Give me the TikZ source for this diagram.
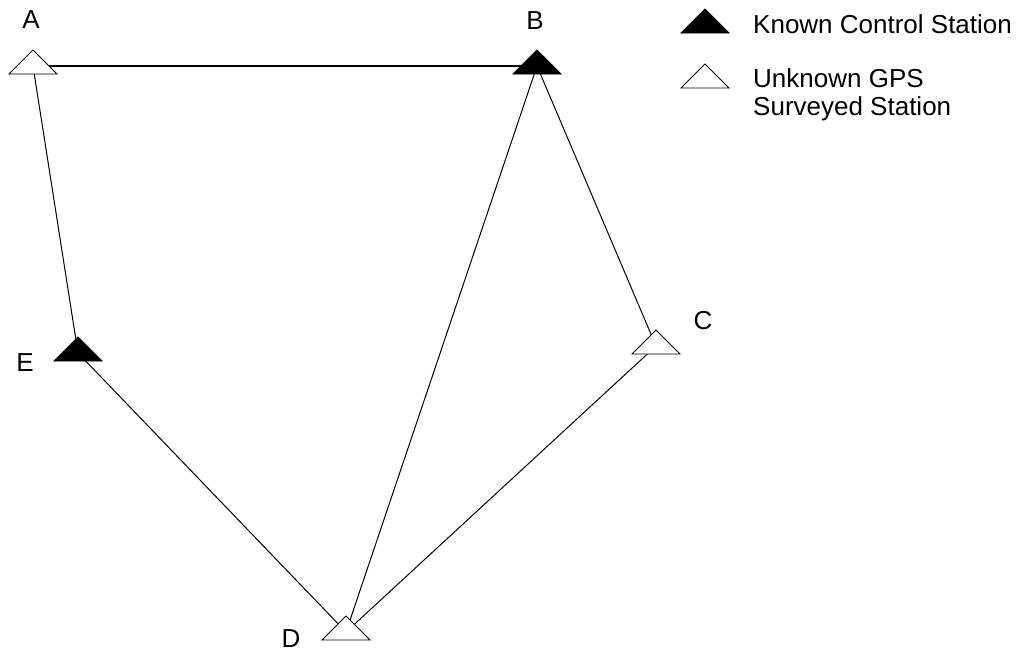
\documentclass[tikz,border=0pt]{standalone}
\usepackage{fontspec}
\setmainfont{Liberation Sans}
\begin{document}
\begin{tikzpicture}[x=1pt,y=-1pt,
  every node/.style={font=\fontsize{26}{28}\selectfont, inner sep=0pt},
  link/.style={draw=black, line width=1pt},
  station/.pic={\draw[line width=0.9pt, fill=#1] (-24,8) -- (0,-16) -- (24,8) -- cycle;}
]
\useasboundingbox (0,0) rectangle (1022,654);
% station positions (triangle centroids)
\coordinate (A) at (33,66);
\coordinate (B) at (537,66);
\coordinate (C) at (656,346);
\coordinate (E) at (78,353);
\coordinate (D) at (346,632);
% connectors
\draw[link, line width=1.6pt] (A) -- (B);
\draw[link] (A) -- (E);
\draw[link] (B) -- (D);
\draw[link] (B) -- (C);
\draw[link] (E) -- (D);
\draw[link] (C) -- (D);
% station symbols
\pic at (A) {station=white};
\pic at (B) {station=black};
\pic at (C) {station=white};
\pic at (E) {station=black};
\pic at (D) {station=white};
% labels
\node (lA) at (31,20) {A};
\node (lB) at (535,21) {B};
\node (lC) at (703,321) {C};
\node (lE) at (25,363) {E};
\node (lD) at (291,639) {D};
% legend
\coordinate (K) at (705,25);
\coordinate (U) at (705,80);
\pic at (K) {station=black};
\pic at (U) {station=white};
\node[anchor=base west] (tK) at (753,33) {Known Control Station};
\node[anchor=base west, align=left] (tU) at (753,115) {Unknown GPS\\Surveyed Station};
\end{tikzpicture}
\end{document}
